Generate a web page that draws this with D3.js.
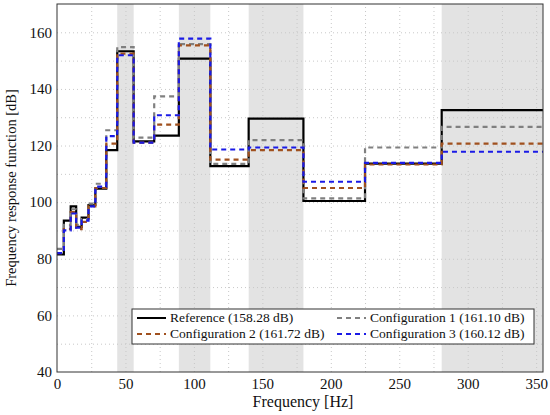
<!DOCTYPE html>
<html>
<head>
<meta charset="utf-8">
<script src="https://cdn.jsdelivr.net/npm/d3@7"></script>
<style>
body { margin: 0; background: #fff; }
text { font-family: "Liberation Serif", "DejaVu Serif", serif; fill: #111; }
</style>
</head>
<body>
<script>
const w = 550
const h = 415

// segment edges in Hz, each series has one value per segment
const edges = [0, 5, 10, 14, 18, 23, 28, 36, 44, 56, 71, 89, 112, 140, 180, 225, 281, 355]
const reference = [81.5, 93.5, 98.5, 91.3, 94.5, 99, 104.8, 118.4, 153.3, 121.5, 123.5, 150.7, 112.7, 129.5, 100.4, 113.6, 132.5]
const config1 = [83.5, 92, 97.5, 92, 94, 99.5, 106.5, 125.4, 154.8, 122.8, 137.4, 155.8, 113.5, 121.9, 101.3, 119.3, 126.6]
const config2 = [82, 90.5, 96.5, 90.5, 93, 98.5, 105, 120.7, 152.5, 121, 127.4, 155.4, 115, 118.4, 105, 113.3, 120.7]
const config3 = [82, 90, 96, 91, 93.5, 98.5, 105.5, 123.3, 151.9, 121, 130.7, 157.8, 118.6, 119.3, 107.2, 113.9, 117.8]
const bands = [[44, 56], [89, 112], [140, 180], [281, 355]]
const xTicks = [0, 50, 100, 150, 200, 250, 300, 350]
const yTicks = [40, 60, 80, 100, 120, 140, 160]
const legendNames = ["Reference (158.28 dB)", "Configuration 1 (161.10 dB)", "Configuration 2 (161.72 dB)", "Configuration 3 (160.12 dB)"]

let series = [
  {vals: reference, color: "#000", dash: null},
  {vals: config1, color: "#808080", dash: "5,4"},
  {vals: config2, color: "#a0501e", dash: "5,4"},
  {vals: config3, color: "#1a1ae6", dash: "5,4"}
]

const m = {left: 57, right: 7, top: 4, bottom: 43}

let x = d3.scaleLinear().domain([0, 355]).range([m.left, w - m.right])
let y = d3.scaleLinear().domain([40, 170]).range([h - m.bottom, m.top])

let svg = d3.select("body").append("svg").attr("width", w).attr("height", h)

// shaded frequency bands
svg.selectAll("rect.band")
  .data(bands)
  .enter()
  .append("rect")
  .attr("x", d => x(d[0]))
  .attr("width", d => x(d[1]) - x(d[0]))
  .attr("y", m.top)
  .attr("height", y(40) - m.top)
  .attr("fill", "#e3e3e3")

// grid, dotted, every 25 Hz and 10 dB
svg.append("g")
  .attr("transform", "translate(0," + (h - m.bottom) + ")")
  .call(d3.axisBottom(x).tickValues(d3.range(25, 355, 25)).tickSize(-(y(40) - m.top)).tickFormat(""))
  .call(g => g.select(".domain").remove())
  .call(g => g.selectAll("line").attr("stroke", "#c8c8c8").attr("stroke-dasharray", "1,3"))
svg.append("g")
  .attr("transform", "translate(" + m.left + ",0)")
  .call(d3.axisLeft(y).tickValues(d3.range(50, 170, 10)).tickSize(-(x(355) - m.left)).tickFormat(""))
  .call(g => g.select(".domain").remove())
  .call(g => g.selectAll("line").attr("stroke", "#c8c8c8").attr("stroke-dasharray", "1,3"))

// step lines
let stepLine = d3.line().x(d => x(d[0])).y(d => y(d[1])).curve(d3.curveStepAfter)
series.forEach(s => {
  let pts = s.vals.map((v, i) => [edges[i], v])
  pts.push([edges[edges.length - 1], s.vals[s.vals.length - 1]])
  s.pts = pts
})
// reference first, the dashed configs go over it
series.forEach(s => {
  svg.append("path")
    .attr("d", stepLine(s.pts))
    .attr("fill", "none")
    .attr("stroke", s.color)
    .attr("stroke-width", 2.2)
    .attr("stroke-dasharray", s.dash)
})

// axes with labels
let xAxis = svg.append("g")
  .attr("transform", "translate(0," + (h - m.bottom) + ")")
  .call(d3.axisBottom(x).tickValues(xTicks).tickSize(0).tickPadding(6))
xAxis.select(".domain").remove()
xAxis.selectAll("text").style("font-size", "15px").style("font-family", "Liberation Serif")

let yAxis = svg.append("g")
  .attr("transform", "translate(" + m.left + ",0)")
  .call(d3.axisLeft(y).tickValues(yTicks).tickSize(0).tickPadding(5))
yAxis.select(".domain").remove()
yAxis.selectAll("text").style("font-size", "15px").style("font-family", "Liberation Serif")

// frame
svg.append("rect")
  .attr("x", m.left).attr("y", m.top)
  .attr("width", x(355) - m.left).attr("height", y(40) - m.top)
  .attr("fill", "none").attr("stroke", "#333").attr("stroke-width", 1)

// axis titles
svg.append("text")
  .attr("x", (m.left + x(355)) / 2 + 3).attr("y", 407)
  .attr("text-anchor", "middle").style("font-size", "16px")
  .text("Frequency [Hz]")
svg.append("text")
  .attr("transform", "translate(16," + ((m.top + y(40)) / 2) + ") rotate(-90)")
  .attr("text-anchor", "middle").style("font-size", "14.5px")
  .text("Frequency response function [dB]")

// legend
let lg = svg.append("g")
lg.append("rect")
  .attr("x", 132).attr("y", 309).attr("width", 402).attr("height", 35)
  .attr("fill", "#fff").attr("stroke", "#333").attr("stroke-width", 1)
let cols = [137, 337]
let rows = [322, 338]
series.forEach((s, k) => {
  let cx = cols[k % 2], cy = rows[Math.floor(k / 2)]
  lg.append("line")
    .attr("x1", cx).attr("x2", cx + 29).attr("y1", cy - 4).attr("y2", cy - 4)
    .attr("stroke", s.color).attr("stroke-width", 2).attr("stroke-dasharray", s.dash)
  lg.append("text")
    .attr("x", cx + 33).attr("y", cy)
    .style("font-size", "13.5px")
    .text(legendNames[k])
})
</script>
</body>
</html>
